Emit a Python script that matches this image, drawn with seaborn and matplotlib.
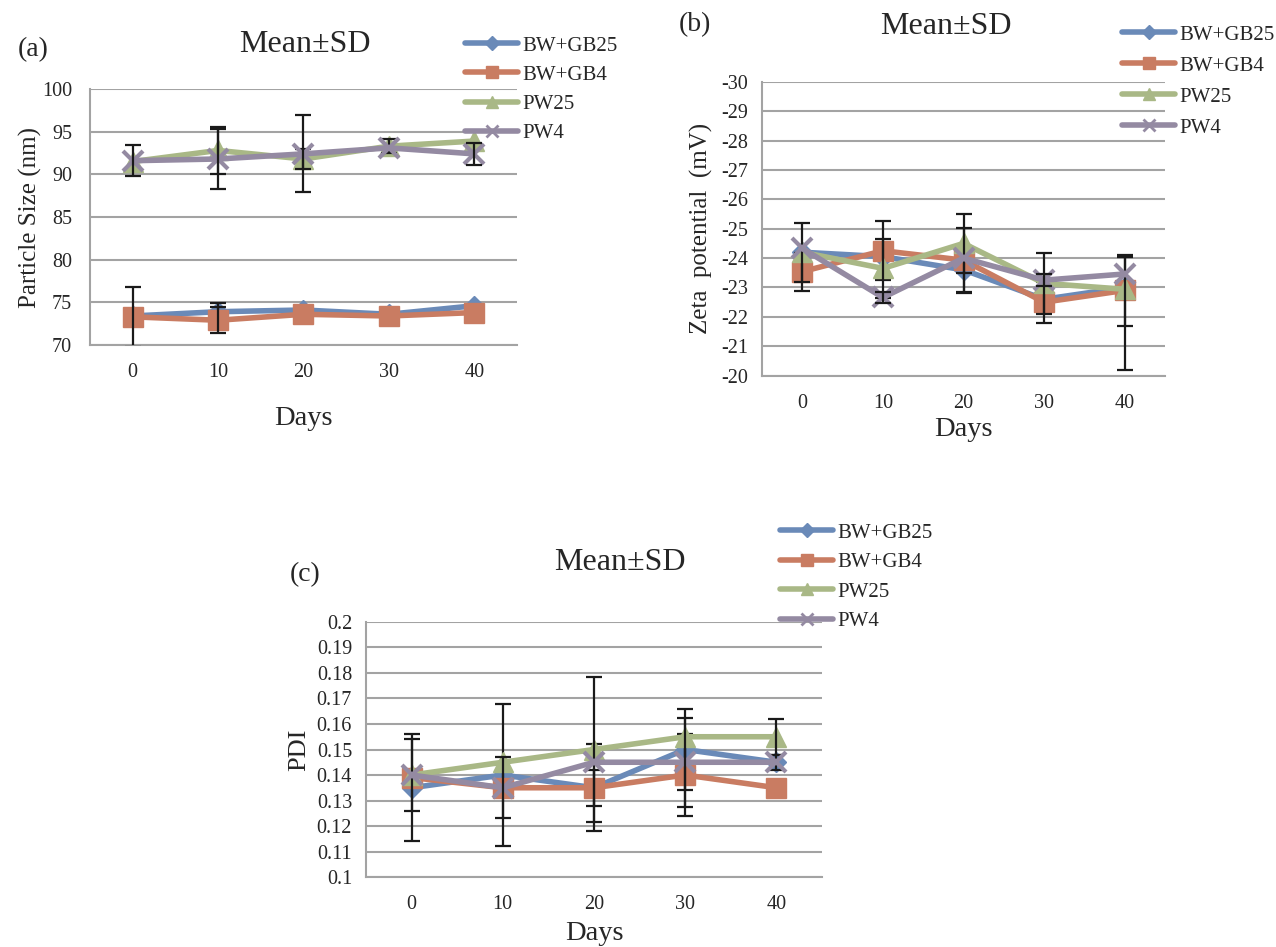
import numpy as np
import pandas as pd
import seaborn as sns
import matplotlib
matplotlib.use("Agg")
import matplotlib.pyplot as plt
from matplotlib.lines import Line2D

sns.set_theme(style="white")
plt.rcParams['font.family'] = ['Liberation Serif', 'DejaVu Serif']

days = ["0", "10", "20", "30", "40"]
series = ["BW+GB25", "BW+GB4", "PW25", "PW4"]

# Panel (a) particle size (nm)
size_bw25 = [73.4, 73.9, 74.1, 73.6, 74.6]
size_bw4 = [73.3, 72.9, 73.6, 73.4, 73.8]
size_pw25 = [91.5, 92.8, 91.8, 93.3, 93.9]
size_pw4 = [91.6, 91.8, 92.4, 93.1, 92.4]
size_sd_bw25 = [0.0, 1.0, 0.0, 0.0, 0.0]
size_sd_bw4 = [3.5, 1.5, 0.0, 0.0, 0.0]
size_sd_pw25 = [0.0, 2.8, 1.2, 0.8, 0.0]
size_sd_pw4 = [1.8, 3.55, 4.5, 0.0, 1.3]

# Panel (b) zeta potential (mV)
zeta_bw25 = [-24.2, -24.05, -23.6, -22.6, -23.0]
zeta_bw4 = [-23.54, -24.25, -23.93, -22.5, -22.9]
zeta_pw25 = [-24.2, -23.65, -24.5, -23.14, -22.94]
zeta_pw4 = [-24.33, -22.66, -24.0, -23.25, -23.46]
zeta_sd_bw25 = [0.0, 0.0, 0.8, 0.0, 0.0]
zeta_sd_bw4 = [0.65, 1.0, 1.1, 0.7, 1.2]
zeta_sd_pw25 = [1.0, 1.0, 1.0, 1.05, 1.1]
zeta_sd_pw25_plus = [1.0, 1.0, 1.0, 1.05, 2.74]
zeta_sd_pw4 = [0.0, 0.2, 0.0, 0.2, 0.0]

# Panel (c) PDI
pdi_bw25 = [0.135, 0.140, 0.135, 0.150, 0.145]
pdi_bw4 = [0.139, 0.135, 0.135, 0.140, 0.135]
pdi_pw25 = [0.140, 0.145, 0.150, 0.155, 0.155]
pdi_pw4 = [0.140, 0.135, 0.145, 0.145, 0.145]
pdi_sd_bw25 = [0.021, 0.028, 0.017, 0.016, 0.003]
pdi_sd_bw4 = [0.0, 0.0, 0.007, 0.016, 0.0]
pdi_sd_pw25 = [0.0143, 0.0, 0.0284, 0.0, 0.007]
pdi_sd_pw4 = [0.0, 0.012, 0.0, 0.0175, 0.0]

colors = ["#6a8ab8", "#c97c62", "#a9b886", "#948aa2"]
markers = ["D", "s", "^", "x"]
msizes = [10, 14, 14, 14]
grid_c = "#a3a3a3"

fig = plt.figure(figsize=(12.76, 9.47), dpi=100)
ax_a = fig.add_axes([0.0705, 0.6357, 0.3346, 0.2703])
ax_b = fig.add_axes([0.5972, 0.6033, 0.3158, 0.3104])
ax_c = fig.add_axes([0.2868, 0.0739, 0.3574, 0.2693])


def draw(ax, vals, sds_lo, sds_hi, ylim, yticks, ylabel, invert=False, fmt=None,
         ytick_len=6):
    x = np.arange(len(days))
    for i, name in enumerate(series):
        df = pd.DataFrame({"x": x, "y": vals[i]})
        sns.lineplot(data=df, x="x", y="y", ax=ax, color=colors[i], linewidth=4,
                     marker=markers[i], markersize=msizes[i],
                     markeredgecolor=colors[i], markeredgewidth=3 if markers[i] == "x" else 1,
                     zorder=3 + i, legend=False)
        lo = np.array(sds_lo[i])
        hi = np.array(sds_hi[i])
        m = (lo > 0) | (hi > 0)
        ax.errorbar(x[m], np.array(vals[i])[m], yerr=[lo[m], hi[m]], fmt="none",
                    ecolor="#1a1a1a", elinewidth=1.6, capsize=6, capthick=1.6,
                    zorder=3 + i)
    ax.set_xlim(-0.5, 4.5)
    ax.set_xticks(x)
    ax.set_xticklabels(days)
    ax.set_ylim(*ylim)
    ax.set_yticks(yticks)
    if fmt:
        ax.set_yticklabels([fmt(v) for v in yticks])
    if invert:
        ax.invert_yaxis()
    ax.grid(axis="y", color=grid_c, linewidth=1.5)
    ax.set_axisbelow(True)
    for s in ["top", "right"]:
        ax.spines[s].set_visible(False)
    for s in ["left", "bottom"]:
        ax.spines[s].set_color(grid_c)
        ax.spines[s].set_linewidth(1.5)
    ax.tick_params(axis="y", length=ytick_len, color=grid_c, width=1.5, labelsize=14.5,
                   pad=4 if ytick_len else 13)
    ax.tick_params(axis="x", length=0, labelsize=14.5, pad=13)
    ax.set_ylabel(ylabel, fontsize=18)
    ax.set_xlabel("Days", fontsize=20.5)


draw(ax_a, [size_bw25, size_bw4, size_pw25, size_pw4],
     [size_sd_bw25, size_sd_bw4, size_sd_pw25, size_sd_pw4],
     [size_sd_bw25, size_sd_bw4, size_sd_pw25, size_sd_pw4],
     (70, 100), np.arange(70, 101, 5), "Particle Size (nm)", ytick_len=0)
draw(ax_b, [zeta_bw25, zeta_bw4, zeta_pw25, zeta_pw4],
     [zeta_sd_bw25, zeta_sd_bw4, zeta_sd_pw25, zeta_sd_pw4],
     [zeta_sd_bw25, zeta_sd_bw4, zeta_sd_pw25_plus, zeta_sd_pw4],
     (-30, -20), np.arange(-30, -19, 1), "Zeta  potential  (mV)", invert=True,
     fmt=lambda v: f"{int(v)}")
draw(ax_c, [pdi_bw25, pdi_bw4, pdi_pw25, pdi_pw4],
     [pdi_sd_bw25, pdi_sd_bw4, pdi_sd_pw25, pdi_sd_pw4],
     [pdi_sd_bw25, pdi_sd_bw4, pdi_sd_pw25, pdi_sd_pw4],
     (0.1, 0.2), np.round(np.arange(0.1, 0.2001, 0.01), 2), "PDI",
     fmt=lambda v: f"{v:g}")

ax_a.xaxis.labelpad = 17
ax_b.xaxis.labelpad = 3
ax_c.xaxis.labelpad = 5
ax_a.yaxis.labelpad = 0
ax_b.yaxis.labelpad = 6
ax_c.yaxis.labelpad = 5
ax_c.yaxis.label.set_fontsize(19)

fig.text(305 / 1276, 1 - 45 / 947, "Mean±SD", fontsize=23, ha="center", va="center")
fig.text(946 / 1276, 1 - 27 / 947, "Mean±SD", fontsize=23, ha="center", va="center")
fig.text(620 / 1276, 1 - 563 / 947, "Mean±SD", fontsize=23, ha="center", va="center")
fig.text(33 / 1276, 1 - 50 / 947, "(a)", fontsize=20, ha="center", va="center")
fig.text(695 / 1276, 1 - 25 / 947, "(b)", fontsize=20, ha="center", va="center")
fig.text(305 / 1276, 1 - 575 / 947, "(c)", fontsize=20, ha="center", va="center")

handles = [Line2D([0], [0], color=colors[i], linewidth=4, marker=markers[i],
                  markersize=[7, 9, 8, 8][i], markeredgecolor=colors[i],
                  markeredgewidth=2 if markers[i] == "x" else 1)
           for i in range(4)]
for (lx, ly, ls) in [(465, 36, 0.46), (1122, 25, 0.55), (780, 523, 0.48)]:
    fig.legend(handles, series, loc="upper left",
               bbox_to_anchor=(lx / 1276, 1 - ly / 947), frameon=False,
               fontsize=15, handlelength=2.55, handletextpad=0.2,
               labelspacing=ls, borderaxespad=0, borderpad=0)

fig.savefig("out.png", dpi=100)
